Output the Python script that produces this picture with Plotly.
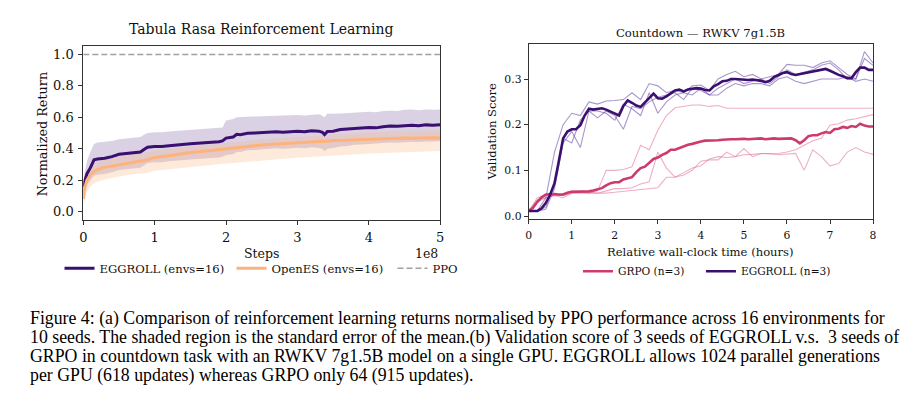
import plotly.graph_objects as go

W, H = 918, 404

# ---- left panel: tabula rasa RL (steps in units of 1e8) ----
steps = [0, 0.02, 0.05, 0.1, 0.15, 0.2, 0.3, 0.4, 0.5, 0.6, 0.7, 0.8, 0.85, 0.9, 1.0,
         1.1, 1.2, 1.3, 1.4, 1.5, 1.6, 1.7, 1.8, 1.9, 1.95, 2.0, 2.1, 2.15, 2.2, 2.3,
         2.4, 2.5, 2.6, 2.7, 2.8, 2.9, 3.0, 3.1, 3.2, 3.3, 3.35, 3.38, 3.42, 3.5, 3.6,
         3.7, 3.8, 3.9, 4.0, 4.1, 4.2, 4.3, 4.4, 4.5, 4.6, 4.7, 4.8, 4.9, 5.0]

eggroll_mean = [0.16, 0.2, 0.24, 0.28, 0.33, 0.335, 0.34, 0.35, 0.365, 0.37, 0.375, 0.38, 0.395, 0.41, 0.415,
                0.415, 0.42, 0.425, 0.428, 0.432, 0.435, 0.437, 0.44, 0.445, 0.45, 0.468, 0.475, 0.492, 0.49, 0.498,
                0.5, 0.503, 0.505, 0.508, 0.505, 0.51, 0.512, 0.508, 0.515, 0.512, 0.505, 0.49, 0.51, 0.512, 0.522,
                0.525, 0.53, 0.532, 0.535, 0.533, 0.54, 0.545, 0.543, 0.548, 0.55, 0.547, 0.552, 0.55, 0.553]
eggroll_hi = [0.2, 0.26, 0.32, 0.38, 0.43, 0.44, 0.445, 0.45, 0.46, 0.465, 0.47, 0.475, 0.49, 0.5, 0.505,
              0.505, 0.51, 0.513, 0.515, 0.52, 0.522, 0.525, 0.527, 0.532, 0.535, 0.58, 0.59, 0.6, 0.6, 0.603,
              0.605, 0.607, 0.61, 0.612, 0.61, 0.613, 0.615, 0.612, 0.618, 0.62, 0.61, 0.6, 0.625, 0.622, 0.625,
              0.628, 0.63, 0.633, 0.635, 0.633, 0.64, 0.642, 0.64, 0.648, 0.65, 0.645, 0.65, 0.648, 0.65]
eggroll_lo = [0.12, 0.14, 0.17, 0.2, 0.23, 0.235, 0.24, 0.25, 0.265, 0.27, 0.275, 0.28, 0.295, 0.31, 0.315,
              0.315, 0.32, 0.325, 0.328, 0.332, 0.335, 0.337, 0.34, 0.345, 0.35, 0.36, 0.365, 0.38, 0.38, 0.39,
              0.393, 0.397, 0.4, 0.403, 0.4, 0.405, 0.407, 0.404, 0.41, 0.405, 0.4, 0.385, 0.4, 0.405, 0.415,
              0.418, 0.425, 0.427, 0.43, 0.43, 0.435, 0.44, 0.438, 0.443, 0.445, 0.443, 0.447, 0.446, 0.45]

openes_mean = [0.08, 0.15, 0.2, 0.235, 0.255, 0.268, 0.282, 0.29, 0.3, 0.31, 0.318, 0.322, 0.325, 0.33, 0.345,
               0.35, 0.355, 0.362, 0.37, 0.375, 0.382, 0.388, 0.392, 0.398, 0.4, 0.402, 0.405, 0.408, 0.41, 0.415,
               0.42, 0.424, 0.427, 0.43, 0.433, 0.436, 0.44, 0.442, 0.445, 0.447, 0.448, 0.446, 0.449, 0.452, 0.453,
               0.455, 0.458, 0.46, 0.462, 0.46, 0.463, 0.465, 0.466, 0.468, 0.467, 0.469, 0.468, 0.47, 0.468]
openes_hi = [0.12, 0.2, 0.25, 0.29, 0.305, 0.315, 0.33, 0.34, 0.35, 0.36, 0.367, 0.372, 0.375, 0.378, 0.39,
             0.395, 0.4, 0.405, 0.41, 0.415, 0.42, 0.425, 0.428, 0.432, 0.435, 0.437, 0.44, 0.443, 0.445, 0.45,
             0.455, 0.46, 0.463, 0.466, 0.47, 0.473, 0.476, 0.479, 0.482, 0.485, 0.487, 0.486, 0.49, 0.492, 0.495,
             0.498, 0.5, 0.503, 0.505, 0.505, 0.508, 0.51, 0.512, 0.514, 0.514, 0.516, 0.517, 0.518, 0.518]
openes_lo = [0.05, 0.09, 0.13, 0.16, 0.18, 0.19, 0.205, 0.215, 0.225, 0.232, 0.238, 0.243, 0.245, 0.248, 0.26,
             0.265, 0.27, 0.275, 0.28, 0.285, 0.29, 0.295, 0.298, 0.302, 0.305, 0.307, 0.31, 0.312, 0.315, 0.32,
             0.324, 0.328, 0.331, 0.334, 0.337, 0.34, 0.343, 0.346, 0.349, 0.352, 0.353, 0.352, 0.355, 0.357, 0.36,
             0.362, 0.365, 0.368, 0.37, 0.371, 0.373, 0.375, 0.377, 0.379, 0.38, 0.382, 0.383, 0.385, 0.386]

ppo_level = 1.0

# ---- right panel: countdown validation score ----
hours_fine = [0.0, 0.1, 0.2, 0.3, 0.4, 0.5, 0.6, 0.7, 0.8, 0.9,
              1.0, 1.1, 1.2, 1.3, 1.4, 1.5, 1.6, 1.7, 1.8, 1.9,
              2.0, 2.1, 2.2, 2.3, 2.4, 2.5, 2.6, 2.7, 2.8, 2.9,
              3.0, 3.1, 3.2, 3.3, 3.4, 3.5, 3.6, 3.7, 3.8, 3.9,
              4.0, 4.1, 4.2, 4.3, 4.4, 4.5, 4.6, 4.7, 4.8, 4.9,
              5.0, 5.1, 5.2, 5.3, 5.4, 5.5, 5.6, 5.7, 5.8, 5.9,
              6.0, 6.1, 6.2, 6.3, 6.4, 6.5, 6.6, 6.7, 6.8, 6.9,
              7.0, 7.1, 7.2, 7.3, 7.4, 7.5, 7.6, 7.7, 7.8, 7.9,
              8.0]
egg_avg = [0.011, 0.011, 0.011, 0.017, 0.029, 0.047, 0.072, 0.12, 0.17, 0.185,
           0.19, 0.19, 0.199, 0.22, 0.235, 0.233, 0.235, 0.236, 0.233, 0.229,
           0.224, 0.22, 0.241, 0.253, 0.248, 0.242, 0.239, 0.248, 0.258, 0.268,
           0.258, 0.257, 0.262, 0.269, 0.275, 0.277, 0.273, 0.277, 0.278, 0.28,
           0.279, 0.276, 0.275, 0.284, 0.289, 0.295, 0.296, 0.3, 0.3, 0.299,
           0.298, 0.298, 0.299, 0.298, 0.296, 0.293, 0.296, 0.304, 0.309, 0.313,
           0.315, 0.311, 0.309, 0.311, 0.313, 0.315, 0.316, 0.318, 0.32, 0.322,
           0.318, 0.313, 0.309, 0.306, 0.302, 0.302, 0.315, 0.325, 0.325, 0.32,
           0.32]
grpo_avg = [0.011, 0.018, 0.031, 0.041, 0.047, 0.048, 0.048, 0.047, 0.047, 0.051,
            0.053, 0.053, 0.053, 0.054, 0.054, 0.056, 0.058, 0.061, 0.067, 0.072,
            0.074, 0.074, 0.08, 0.083, 0.085, 0.096, 0.105, 0.108, 0.116, 0.125,
            0.128, 0.134, 0.138, 0.145, 0.145, 0.149, 0.152, 0.156, 0.158, 0.161,
            0.163, 0.165, 0.165, 0.166, 0.166, 0.167, 0.168, 0.168, 0.168, 0.169,
            0.169, 0.168, 0.169, 0.169, 0.17, 0.168, 0.169, 0.17, 0.169, 0.169,
            0.17, 0.17, 0.166, 0.159, 0.166, 0.175, 0.177, 0.177, 0.181, 0.184,
            0.182, 0.19, 0.191, 0.195, 0.193, 0.197, 0.195, 0.202, 0.198, 0.196,
            0.196]

hours_seed = [0.0, 0.2, 0.4, 0.6, 0.8, 1.0, 1.2, 1.4, 1.6, 1.8,
              2.0, 2.2, 2.4, 2.6, 2.8, 3.0, 3.2, 3.4, 3.6, 3.8,
              4.0, 4.2, 4.4, 4.6, 4.8, 5.0, 5.2, 5.4, 5.6, 5.8,
              6.0, 6.2, 6.4, 6.6, 6.8, 7.0, 7.2, 7.4, 7.6, 7.8,
              8.0]
egg_seed1 = [0.01, 0.012, 0.04, 0.14, 0.2, 0.225, 0.22, 0.25, 0.245, 0.252,
             0.253, 0.255, 0.27, 0.255, 0.29, 0.285, 0.27, 0.275, 0.27, 0.285,
             0.287, 0.275, 0.3, 0.31, 0.317, 0.305, 0.31, 0.3, 0.305, 0.31,
             0.332, 0.33, 0.33, 0.325, 0.335, 0.34, 0.325, 0.31, 0.3, 0.36,
             0.335]
egg_seed2 = [0.01, 0.01, 0.02, 0.07, 0.17, 0.16, 0.21, 0.23, 0.215, 0.23,
             0.22, 0.19, 0.24, 0.235, 0.25, 0.26, 0.265, 0.27, 0.255, 0.28,
             0.275, 0.265, 0.28, 0.29, 0.3, 0.29, 0.295, 0.3, 0.29, 0.305,
             0.32, 0.31, 0.315, 0.32, 0.33, 0.335, 0.32, 0.3, 0.3, 0.345,
             0.33]
egg_seed3 = [0.01, 0.01, 0.015, 0.06, 0.16, 0.185, 0.15, 0.23, 0.23, 0.225,
             0.21, 0.245, 0.235, 0.22, 0.27, 0.225, 0.25, 0.265, 0.27, 0.265,
             0.28, 0.265, 0.265, 0.28, 0.29, 0.285, 0.29, 0.29, 0.285, 0.3,
             0.305, 0.295, 0.29, 0.295, 0.3, 0.3, 0.3, 0.305, 0.295, 0.3,
             0.295]
grpo_seed1 = [0.01, 0.04, 0.045, 0.045, 0.045, 0.05, 0.052, 0.05, 0.055, 0.1,
              0.1, 0.102, 0.108, 0.155, 0.145, 0.188, 0.22, 0.237, 0.24, 0.243,
              0.243, 0.24, 0.242, 0.236, 0.236, 0.236, 0.236, 0.236, 0.236, 0.236,
              0.236, 0.236, 0.236, 0.236, 0.236, 0.236, 0.236, 0.236, 0.236, 0.236,
              0.236]
grpo_seed2 = [0.01, 0.03, 0.04, 0.045, 0.04, 0.05, 0.05, 0.05, 0.05, 0.05,
              0.052, 0.054, 0.056, 0.058, 0.06, 0.062, 0.085, 0.085, 0.095, 0.105,
              0.11, 0.125, 0.13, 0.128, 0.13, 0.134, 0.135, 0.137, 0.136, 0.137,
              0.14, 0.145, 0.155, 0.165, 0.17, 0.199, 0.202, 0.21, 0.213, 0.217,
              0.222]
grpo_seed3 = [0.01, 0.035, 0.04, 0.045, 0.045, 0.055, 0.055, 0.052, 0.05, 0.055,
              0.06, 0.06, 0.062, 0.07, 0.075, 0.14, 0.105, 0.085, 0.09, 0.1,
              0.12, 0.123, 0.123, 0.14, 0.13, 0.148, 0.13, 0.137, 0.137, 0.134,
              0.135, 0.137, 0.1, 0.145, 0.13, 0.11, 0.115, 0.14, 0.15, 0.14,
              0.135]

caption_lines = [
    "Figure 4: (a) Comparison of reinforcement learning returns normalised by PPO performance across 16 environments for",
    "10 seeds. The shaded region is the standard error of the mean.(b) Validation score of 3 seeds of EGGROLL v.s.  3 seeds of",
    "GRPO in countdown task with an RWKV 7g1.5B model on a single GPU. EGGROLL allows 1024 parallel generations",
    "per GPU (618 updates) whereas GRPO only 64 (915 updates).",
]

PURPLE = "#3b0f70"
ORANGE = "#fdb37c"
PINK = "#cc3a70"
SERIF = "'DejaVu Serif', serif"


def px_x(p):
    return p / W


def px_y(p):
    return 1 - p / H


fig = go.Figure()

# shaded bands (left)
fig.add_trace(go.Scatter(x=steps, y=eggroll_lo, mode="lines", line=dict(width=0),
                         showlegend=False, hoverinfo="skip", xaxis="x", yaxis="y"))
fig.add_trace(go.Scatter(x=steps, y=eggroll_hi, mode="lines", line=dict(width=0), fill="tonexty",
                         fillcolor="rgba(59,15,112,0.19)", showlegend=False, hoverinfo="skip",
                         xaxis="x", yaxis="y"))
fig.add_trace(go.Scatter(x=steps, y=openes_lo, mode="lines", line=dict(width=0),
                         showlegend=False, hoverinfo="skip", xaxis="x", yaxis="y"))
fig.add_trace(go.Scatter(x=steps, y=openes_hi, mode="lines", line=dict(width=0), fill="tonexty",
                         fillcolor="rgba(253,179,124,0.28)", showlegend=False, hoverinfo="skip",
                         xaxis="x", yaxis="y"))

fig.add_trace(go.Scatter(x=steps, y=eggroll_mean, mode="lines", name="EGGROLL (envs=16)",
                         line=dict(color=PURPLE, width=3), legend="legend", legendwidth=127,
                         xaxis="x", yaxis="y"))
fig.add_trace(go.Scatter(x=steps, y=openes_mean, mode="lines", name="OpenES (envs=16)",
                         line=dict(color=ORANGE, width=3), legend="legend", legendwidth=116,
                         xaxis="x", yaxis="y"))
fig.add_trace(go.Scatter(x=[steps[0], steps[-1]], y=[ppo_level, ppo_level], mode="lines", name="PPO",
                         line=dict(color="#a0a0a0", width=1.5, dash="6px,3px"), legend="legend",
                         xaxis="x", yaxis="y"))

# right panel: thin seed runs
for s in [grpo_seed1, grpo_seed2, grpo_seed3]:
    fig.add_trace(go.Scatter(x=hours_seed, y=s, mode="lines", line=dict(color="rgba(226,120,160,0.6)", width=1.1),
                             showlegend=False, hoverinfo="skip", xaxis="x2", yaxis="y2"))
for s in [egg_seed1, egg_seed2, egg_seed3]:
    fig.add_trace(go.Scatter(x=hours_seed, y=s, mode="lines", line=dict(color="rgba(110,80,170,0.6)", width=1.1),
                             showlegend=False, hoverinfo="skip", xaxis="x2", yaxis="y2"))

fig.add_trace(go.Scatter(x=hours_fine, y=grpo_avg, mode="lines", name="GRPO (n=3)",
                         line=dict(color=PINK, width=2.6), legend="legend2", legendwidth=78,
                         xaxis="x2", yaxis="y2"))
fig.add_trace(go.Scatter(x=hours_fine, y=egg_avg, mode="lines", name="EGGROLL (n=3)",
                         line=dict(color=PURPLE, width=2.6), legend="legend2", xaxis="x2", yaxis="y2"))

axis_common = dict(showgrid=False, zeroline=False, showline=True, mirror=True, linecolor="#333",
                   linewidth=1, ticks="outside", ticklen=4, tickwidth=0.9, tickcolor="#333")

annotations = [
    dict(text="Tabula Rasa Reinforcement Learning", x=px_x(260), y=px_y(29), font=dict(size=14)),
    dict(text="Steps", x=px_x(260), y=px_y(256), font=dict(size=12.5)),
    dict(text="1e8", x=px_x(440), y=px_y(256), xanchor="right", font=dict(size=12.5)),
    dict(text="Normalized Return", x=px_x(39), y=px_y(135), textangle=-90, font=dict(size=12.8)),
    dict(text="Countdown — RWKV 7g1.5B", x=px_x(703), y=px_y(33), font=dict(size=11.6)),
    dict(text="Relative wall-clock time (hours)", x=px_x(703), y=px_y(255), font=dict(size=11.6)),
    dict(text="Validation Score", x=px_x(492), y=px_y(133), textangle=-90, font=dict(size=11.6)),
]
for i, line in enumerate(caption_lines):
    annotations.append(dict(text=line, x=px_x(24), y=px_y(322 + 19 * i), xanchor="left",
                            font=dict(family="Liberation Serif", size=17.8, color="black")))
for a in annotations:
    a.setdefault("xanchor", "center")
    a["yanchor"] = "middle"
    a["xref"] = "paper"
    a["yref"] = "paper"
    a["showarrow"] = False

fig.update_layout(
    width=W, height=H, margin=dict(l=0, r=0, t=0, b=0),
    paper_bgcolor="white", plot_bgcolor="white",
    font=dict(family=SERIF, color="#111"),
    xaxis=dict(domain=[px_x(80), px_x(440)], range=[0, 5], tickvals=[0, 1, 2, 3, 4, 5],
               tickfont=dict(size=13), ticklabelstandoff=1, anchor="y", **axis_common),
    yaxis=dict(domain=[px_y(222.7), px_y(46.7)], range=[-0.056, 1.052], tickvals=[0, 0.2, 0.4, 0.6, 0.8, 1.0],
               tickformat=".1f", tickfont=dict(size=13), ticklabelstandoff=2, anchor="x", **axis_common),
    xaxis2=dict(domain=[px_x(529.3), px_x(876.7)], range=[0, 8], tickvals=[0, 1, 2, 3, 4, 5, 6, 7, 8],
                tickfont=dict(size=10.8), ticklabelstandoff=3, anchor="y2", **axis_common),
    yaxis2=dict(domain=[px_y(220.7), px_y(44.3)], range=[-0.0055, 0.377], tickvals=[0, 0.1, 0.2, 0.3],
                tickformat=".1f", tickfont=dict(size=10.8), anchor="x2", **axis_common),
    legend=dict(orientation="h", x=px_x(56), y=px_y(271), xanchor="left", yanchor="middle",
                font=dict(size=11.6), itemwidth=30, traceorder="normal", bgcolor="rgba(0,0,0,0)"),
    legend2=dict(orientation="h", x=px_x(579), y=px_y(274), xanchor="left", yanchor="middle",
                 font=dict(size=10.6), itemwidth=30, traceorder="normal", bgcolor="rgba(0,0,0,0)"),
    annotations=annotations,
    showlegend=True,
)

# the page body has a default 8px margin; drop it so the figure sits at the window origin
fig.write_html("out.html", config={"displayModeBar": False},
               post_script="document.body.style.margin='0';")
